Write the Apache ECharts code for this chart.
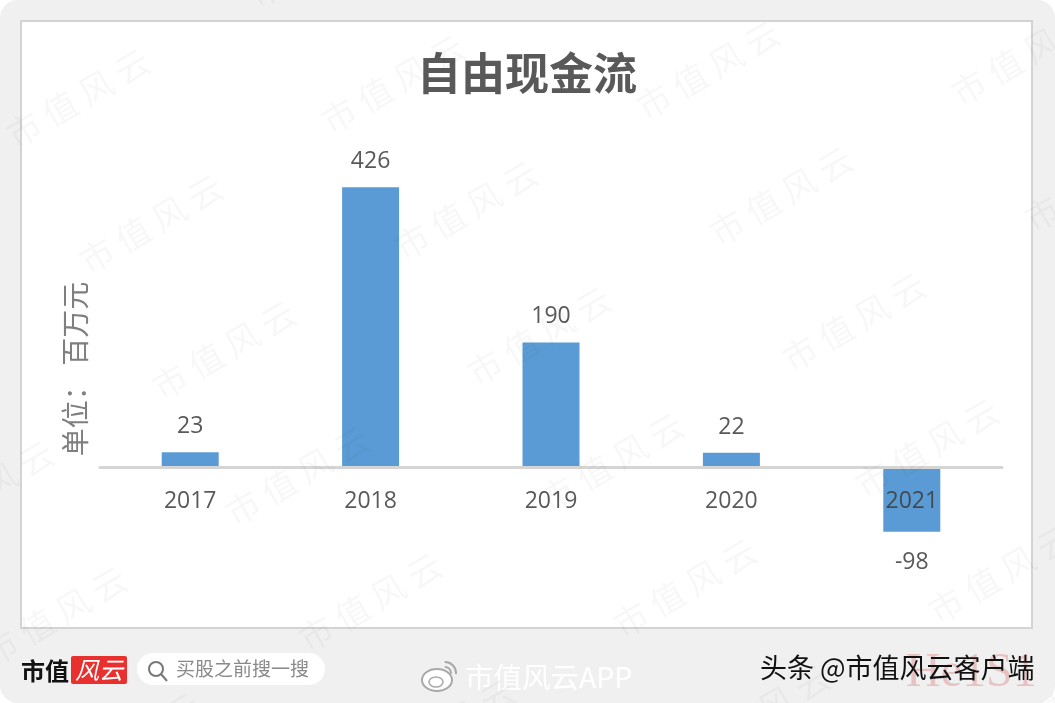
<!DOCTYPE html>
<html>
<head>
<meta charset="utf-8">
<style>
html, body { margin: 0; padding: 0; background: #fff; }
#chart { width: 1055px; height: 703px; }
</style>
<script src="https://cdn.jsdelivr.net/npm/echarts@6/dist/echarts.min.js"></script>
</head>
<body>
<div id="chart"></div>
<script>
var years = ['2017', '2018', '2019', '2020', '2021'];
var freeCashFlow = [23, 426, 190, 22, -98];
var chartTitle = '自由现金流';
var unitLabel = '单位： 百万元';

var cjk = '"Noto Sans CJK SC", sans-serif';
var chart = echarts.init(document.getElementById('chart'), null, { renderer: 'canvas' });

// tiled watermark over the whole picture
var marks = [];
for (var row = -1; row < 6; row++) {
	for (var col = -2; col < 5; col++) {
		var cx = 78 + col * 315 + row * 73;
		var cy = 98 - col * 14 + row * 126;
		if (cx < -120 || cx > 1170 || cy < -60 || cy > 760) continue;
		marks.push({
			type: 'text', x: cx, y: cy, rotation: 0.53, z: 50, silent: true,
			style: {
				text: '市 值 风 云', font: '34px ' + cjk,
				fill: 'rgba(0,0,0,0.03)', align: 'center', verticalAlign: 'middle'
			}
		});
	}
}

var frame = [
	{ type: 'rect', z: -10, shape: { x: 0, y: 0, width: 1055, height: 703, r: 18 }, style: { fill: '#f0f0f0' } },
	{ type: 'rect', z: -9, shape: { x: 21, y: 21, width: 1011, height: 607 }, style: { fill: '#fff', stroke: '#d3d3d3', lineWidth: 2 } }
];

var footer = [
	{ type: 'text', x: 21, y: 671, z: 20, style: { text: '市值', font: 'bold 24px "Noto Sans CJK SC"', fill: '#111', verticalAlign: 'middle' } },
	{ type: 'rect', z: 20, shape: { x: 71, y: 656, width: 56, height: 28, r: 2 }, style: { fill: '#e8302e' } },
	{ type: 'text', x: 99, y: 670, z: 21, style: { text: '风云', font: 'italic 24px "Noto Sans CJK SC"', fill: '#fff', align: 'center', verticalAlign: 'middle' } },
	{ type: 'rect', z: 20, shape: { x: 137, y: 653, width: 188, height: 32, r: 16 }, style: { fill: '#fff' } },
	{ type: 'circle', z: 21, shape: { cx: 156, cy: 669, r: 7 }, style: { fill: 'none', stroke: '#777', lineWidth: 2 } },
	{ type: 'line', z: 21, shape: { x1: 161, y1: 674, x2: 167, y2: 681 }, style: { stroke: '#777', lineWidth: 2 } },
	{ type: 'text', x: 176, y: 669, z: 21, style: { text: '买股之前搜一搜', font: '19px ' + cjk, fill: '#8a8a8a', verticalAlign: 'middle' } },
	{ type: 'text', x: 465, y: 677, z: 21, style: { text: '市值风云APP', font: '28.5px ' + cjk, fill: '#fff', shadowColor: '#888', shadowBlur: 3, shadowOffsetX: 1, shadowOffsetY: 1, verticalAlign: 'middle' } },
	// weibo mark
	{ type: 'ellipse', z: 21, shape: { cx: 437, cy: 680, rx: 15, ry: 11 }, style: { fill: '#fff', stroke: '#a8a8a8', lineWidth: 2 } },
	{ type: 'ellipse', z: 21, shape: { cx: 436, cy: 682, rx: 7, ry: 5 }, style: { fill: 'none', stroke: '#a8a8a8', lineWidth: 1.5 } },
	{ type: 'arc', z: 21, shape: { cx: 445, cy: 673, r: 6, startAngle: -1.6, endAngle: 0.1 }, style: { fill: 'none', stroke: '#a8a8a8', lineWidth: 2 } },
	{ type: 'arc', z: 21, shape: { cx: 445, cy: 673, r: 11, startAngle: -1.6, endAngle: 0.1 }, style: { fill: 'none', stroke: '#a8a8a8', lineWidth: 2 } },
	{ type: 'text', x: 906, y: 673, z: 21, style: { text: 'He1S1', font: '48px "Liberation Serif"', fill: 'rgba(215,110,110,0.35)', verticalAlign: 'middle' } },
	{ type: 'text', x: 760, y: 668, z: 22, style: { text: '头条 @市值风云客户端', font: '27px ' + cjk, fill: '#111', verticalAlign: 'middle' } }
];

var option = {
	animation: false,
	title: {
		text: chartTitle, left: 522, top: 68, textAlign: 'center', textVerticalAlign: 'middle',
		textStyle: { fontFamily: cjk, fontSize: 44, fontWeight: 'bold', color: '#595959' }
	},
	grid: { left: 100, width: 902, top: 171.5, height: 361.5 },
	xAxis: {
		type: 'category', data: years, z: 5,
		axisLine: { onZero: true, lineStyle: { color: '#d5d5d5', width: 3 } },
		axisTick: { show: false },
		// labels sit under the zero line, not at the bottom of the grid
		axisLabel: { margin: -43, fontFamily: '"Open Sans"', fontSize: 23, color: 'rgba(60,60,60,0.85)' }
	},
	yAxis: { type: 'value', min: -100, max: 450, show: false, splitLine: { show: false } },
	series: [{
		type: 'bar', barWidth: 57,
		data: freeCashFlow.map(function (v) {
			return v < 0 ? { value: v, label: { distance: 19 } } : v;
		}),
		itemStyle: { color: '#5b9bd5' },
		label: {
			show: true, position: 'outside', distance: 14,
			fontFamily: '"Open Sans"', fontSize: 23, color: '#595959'
		}
	}],
	graphic: frame.concat([{
		type: 'text', x: 75, y: 369, rotation: Math.PI / 2, z: 10,
		style: { text: unitLabel, font: '28px ' + cjk, fill: '#7f7f7f', align: 'center', verticalAlign: 'middle' }
	}], footer, marks)
};
chart.setOption(option);
</script>
</body>
</html>
